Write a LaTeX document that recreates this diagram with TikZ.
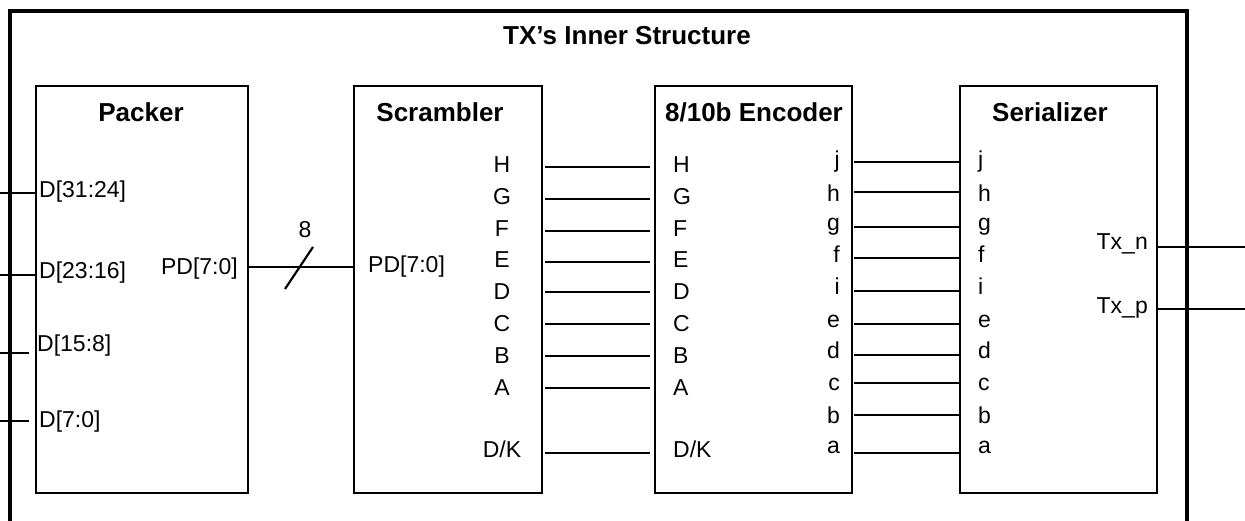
\documentclass[tikz,border=0pt]{standalone}
\usepackage{fontspec}
\setmainfont{Liberation Sans}
\begin{document}
\begin{tikzpicture}[x=1pt,y=-1pt,
  blk/.style={draw,line width=2.2pt,anchor=north west,inner sep=0pt,outer sep=0pt,minimum height=407pt},
  ttl/.style={font=\fontsize{26}{30}\selectfont\bfseries,inner sep=0pt,anchor=base},
  lbl/.style={font=\fontsize{23}{27}\selectfont,inner sep=0pt},
  wire/.style={line width=2.2pt},
  frame/.style={line width=3.4pt}
]
\useasboundingbox (0,0) rectangle (1245,521);
% outer frame (open at the bottom)
\coordinate (fbl) at (10,521);
\coordinate (ftl) at (10,11);
\coordinate (ftr) at (1187,11);
\coordinate (fbr) at (1187,521);
\draw[frame] (fbl) -- (ftl) -- (ftr) -- (fbr);
\node[ttl] (title) at (627,45) {TX’s Inner Structure};

% blocks
\node[blk,minimum width=212pt] (pk) at (36,86) {};
\node[blk,minimum width=188pt] (sc) at (354,86) {};
\node[blk,minimum width=197pt] (en) at (655,86) {};
\node[blk,minimum width=197pt] (se) at (960,86) {};
\node[ttl] (tpk) at (141,122) {Packer};
\node[ttl] (tsc) at (440,122) {Scrambler};
\node[ttl] (ten) at (754,122) {8/10b Encoder};
\node[ttl] (tse) at (1050,122) {Serializer};

% packer inputs
\node[lbl,anchor=base west] (d3) at (39,198) {D[31:24]};
\node[lbl,anchor=base west] (d2) at (39,279) {D[23:16]};
\node[lbl,anchor=base west] (d1) at (37,352) {D[15:8]};
\node[lbl,anchor=base west] (d0) at (39,427) {D[7:0]};
\coordinate (i3) at (0,193);
\coordinate (i2) at (0,275);
\coordinate (i1) at (0,353);
\coordinate (i1e) at (29,353);
\coordinate (i0) at (0,421);
\coordinate (i0e) at (29,421);
\draw[wire] (i3) -- (i3 -| pk.west);
\draw[wire] (i2) -- (i2 -| pk.west);
\draw[wire] (i1) -- (i1e);
\draw[wire] (i0) -- (i0e);

% PD bus
\node[lbl,anchor=base east] (pdo) at (238,275) {PD[7:0]};
\node[lbl,anchor=base west] (pdi) at (368,273) {PD[7:0]};
\coordinate (pdy) at (0,267);
\draw[wire] (pdy -| pk.east) -- (pdy -| sc.west);
\coordinate (sl1) at (285,289);
\coordinate (sl2) at (313,247);
\draw[wire] (sl1) -- (sl2);
\node[lbl,anchor=base] (w8) at (305,238) {8};

% scrambler -> encoder
\foreach \n/\t/\y/\b in {H/H/167/173, G/G/199/205, F/F/231/237, E/E/262/268, D/D/292/300, C/C/324/332, B/B/356/363, A/A/388/395, DK/{D/K}/453/457}
{
  \node[lbl,anchor=base] (so\n) at (502,\b) {\t};
  \node[lbl,anchor=base west] (ei\n) at (673,\b) {\t};
  \coordinate (sw\n) at (545,\y);
  \coordinate (ew\n) at (650,\y);
  \draw[wire] (sw\n) -- (ew\n);
}

% encoder -> serializer
\foreach \n/\y/\b in {j/162/168, h/192/202, g/227/231, f/258/263, i/291/295, e/324/327, d/355/358, c/383/390, b/415/423, a/453/453}
{
  \node[lbl,anchor=base east] (eo\n) at (840,\b) {\n};
  \node[lbl,anchor=base west] (si\n) at (978,\b) {\n};
  \coordinate (ow\n) at (854,\y);
  \draw[wire] (ow\n) -- (ow\n -| se.west);
}

% outputs
\node[lbl,anchor=base east] (txn) at (1148,250) {Tx\_n};
\node[lbl,anchor=base east] (txp) at (1148,313) {Tx\_p};
\coordinate (txne) at (1245,247);
\coordinate (txpe) at (1245,309);
\draw[wire] (txne -| se.east) -- (txne);
\draw[wire] (txpe -| se.east) -- (txpe);
\end{tikzpicture}
\end{document}
